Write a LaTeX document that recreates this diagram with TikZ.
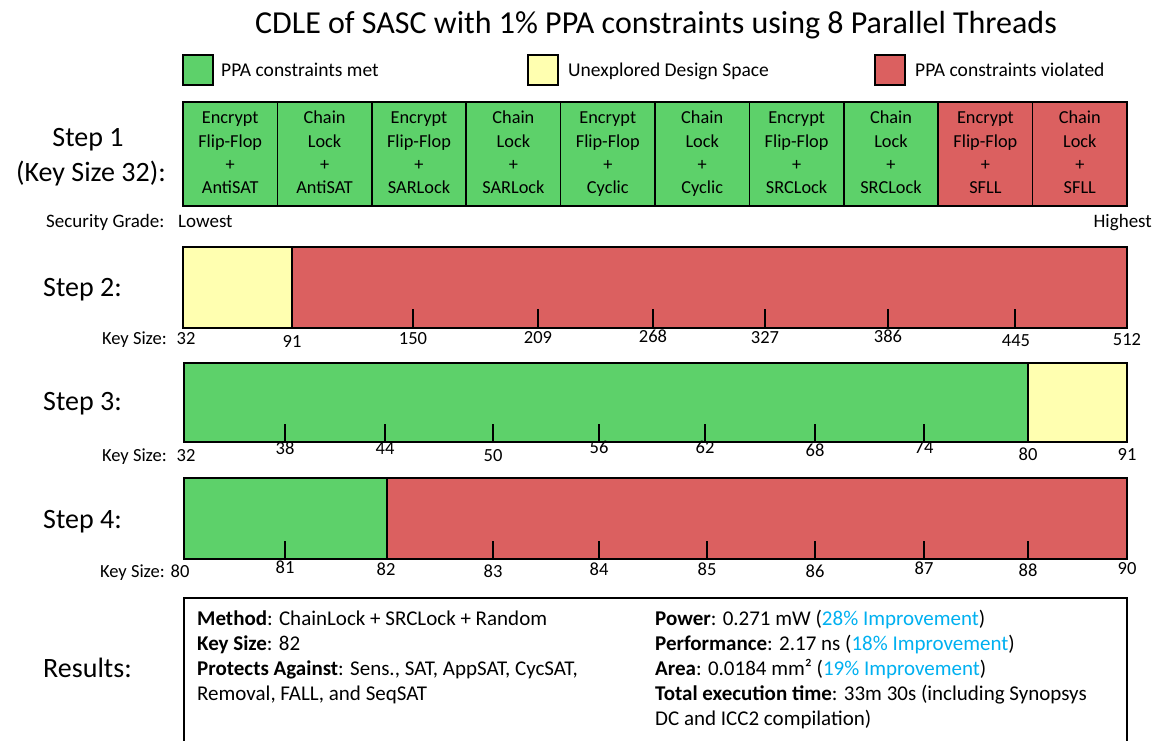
\documentclass[tikz,border=0pt]{standalone}
\usepackage{fontspec}
\setmainfont{Carlito}
\definecolor{okgreen}{HTML}{5DD16A}
\definecolor{unexp}{HTML}{FFFFB0}
\definecolor{badred}{HTML}{DB6060}
\definecolor{impblue}{HTML}{00B0F0}

\begin{document}
\begin{tikzpicture}[x=1pt,y=-1pt,
  fs/.style={font=\fontsize{#1}{#1}\selectfont},
  cell/.style={draw=black, line width=1.6pt, minimum width=94.4pt, minimum height=104pt,
    inner sep=0pt, align=center, font=\fontsize{18.3}{23.2}\selectfont},
  swatch/.style={draw=black, line width=1.6pt, minimum size=30pt, inner sep=0pt},
  txt/.style={inner sep=0pt, anchor=base west},
  steplabel/.style={txt, fs=28},
  ticmark/.style={line width=2.2pt},
  ticklabel/.style={anchor=base, inner sep=0pt, fs=18.5},
  keylabel/.style={inner sep=0pt, anchor=base east, fs=18.5},
  baroutline/.style={draw=black, line width=1.8pt},
  divider/.style={line width=1.8pt},
  res/.style={txt, fs=21},
]
\useasboundingbox (0,0) rectangle (1156,740);

% title
\node[inner sep=0pt, anchor=base, fs=32] (title) at (656,33)
  {CDLE of SASC with 1\% PPA constraints using 8 Parallel Threads};

% legend
\node[swatch, fill=okgreen] (lg) at (198,70) {};
\node[txt, fs=19.5] (lgt) at (221,76.3) {PPA constraints met};
\node[swatch, fill=unexp] (ly) at (543,70) {};
\node[txt, fs=19.5] (lyt) at (568,76.3) {Unexplored Design Space};
\node[swatch, fill=badred] (lr) at (890,70) {};
\node[txt, fs=19.5] (lrt) at (915,76.3) {PPA constraints violated};

% step 1: one cell per locking combination
\node[inner sep=0pt, anchor=base, fs=28] (step1a) at (88,146) {Step 1};
\node[inner sep=0pt, anchor=base, fs=28] (step1b) at (91,181) {(Key Size 32):};
\foreach \i/\la/\lb/\lc/\col in {
  1/Encrypt/Flip-Flop/AntiSAT/okgreen,
  2/Chain/Lock/AntiSAT/okgreen,
  3/Encrypt/Flip-Flop/SARLock/okgreen,
  4/Chain/Lock/SARLock/okgreen,
  5/Encrypt/Flip-Flop/Cyclic/okgreen,
  6/Chain/Lock/Cyclic/okgreen,
  7/Encrypt/Flip-Flop/SRCLock/okgreen,
  8/Chain/Lock/SRCLock/okgreen,
  9/Encrypt/Flip-Flop/SFLL/badred,
  10/Chain/Lock/SFLL/badred}
  \node[cell, fill=\col] (cell\i) at ({183+94.4*(\i-0.5)},154)
    {\strut\la\\\strut\lb\\\strut+\\\strut\lc};

\node[txt, fs=19] (sg) at (46,227) {Security Grade:};
\node[txt, fs=19] (low) at (178,227) {Lowest};
\node[inner sep=0pt, anchor=base east, fs=19] (high) at (1152,227) {Highest};

% step 2
\node[steplabel] (step2) at (43,296) {Step 2:};
\fill[unexp] (183,247) rectangle (292,328);
\fill[badred] (292,247) rectangle (1127,328);
\draw[divider] (292,247) -- (292,328);
\foreach \x in {413,538,653,765,888,1015}
  \draw[ticmark] (\x,328) -- (\x,309);
\draw[baroutline] (183,247) rectangle (1127,328);
\node[keylabel] (ks2) at (167,344) {Key Size:};
\foreach \v/\x/\y in {32/186/344,91/292/347,150/413/344,209/538/343,268/653/342,
  327/765/343,386/888/342,445/1016/346,512/1127/345}
  \node[ticklabel] (k2-\v) at (\x,\y) {\v};

% step 3
\node[steplabel] (step3) at (43,410) {Step 3:};
\fill[okgreen] (184,363) rectangle (1028,442);
\fill[unexp] (1028,363) rectangle (1127,442);
\draw[divider] (1028,363) -- (1028,442);
\foreach \x in {285,385,493,599,705,815,924}
  \draw[ticmark] (\x,442) -- (\x,424);
\draw[baroutline] (184,363) rectangle (1127,442);
\node[keylabel] (ks3) at (167,461) {Key Size:};
\foreach \v/\x/\y in {32/186/461,38/285/454,44/385/454,50/493/461,56/599/453,
  62/705/453,68/815/456,74/924/453,80/1028/460,91/1127/460}
  \node[ticklabel] (k3-\v) at (\x,\y) {\v};

% step 4
\node[steplabel] (step4) at (43,528) {Step 4:};
\fill[okgreen] (184,478) rectangle (387,559);
\fill[badred] (387,478) rectangle (1127,559);
\draw[divider] (387,478) -- (387,559);
\foreach \x in {285,493,599,707,815,924,1028}
  \draw[ticmark] (\x,559) -- (\x,541);
\draw[baroutline] (184,478) rectangle (1127,559);
\node[keylabel] (ks4) at (165,577) {Key Size:};
\foreach \v/\x/\y in {80/180/577,81/285/573,82/386/575,83/493/577,84/599/575,
  85/707/575,86/815/577,87/924/574,88/1028/576,90/1127/574}
  \node[ticklabel] (k4-\v) at (\x,\y) {\v};

% results
\node[steplabel] (results) at (43,677) {Results:};
\draw[line width=2pt] (184,742) -- (184,598) -- (1127,598) -- (1127,742);
\node[res] (r1) at (197,625) {\textbf{Method}: ChainLock + SRCLock + Random};
\node[res] (r2) at (197,650) {\textbf{Key Size}: 82};
\node[res] (r3) at (197,675) {\textbf{Protects Against}: Sens., SAT, AppSAT, CycSAT,};
\node[res] (r4) at (197,700) {Removal, FALL, and SeqSAT};
\node[res] (r5) at (655,625) {\textbf{Power}: 0.271 mW (\textcolor{impblue}{28\% Improvement})};
\node[res] (r6) at (655,650) {\textbf{Performance}: 2.17 ns (\textcolor{impblue}{18\% Improvement})};
\node[res] (r7) at (655,675) {\textbf{Area}: 0.0184 mm² (\textcolor{impblue}{19\% Improvement})};
\node[res] (r8) at (655,700) {\textbf{Total execution time}: 33m 30s (including Synopsys};
\node[res] (r9) at (655,725) {DC and ICC2 compilation)};
\end{tikzpicture}
\end{document}
